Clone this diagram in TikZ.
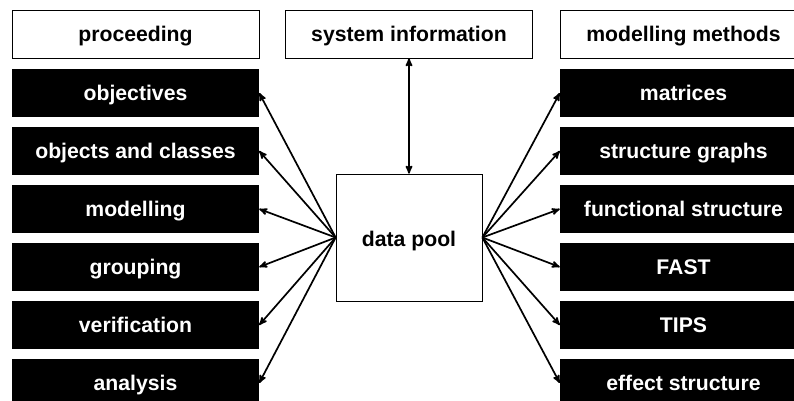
\documentclass[tikz,border=0pt]{standalone}
\usepackage{fontspec}
\setmainfont{Liberation Sans}
\usetikzlibrary{
  positioning,
  arrows
}
\tikzset{
  >=stealth',
  node distance=58pt,
  head/.style={draw, line width=0.7pt, minimum width=247pt, minimum height=48pt,
    inner sep=0pt, text height=17pt, text depth=2pt,
    font=\bfseries\fontsize{21.2}{25}\selectfont},
  item/.style={fill=black, text=white, minimum width=247pt, minimum height=48pt,
    inner sep=0pt, text height=17pt, text depth=2pt,
    font=\bfseries\fontsize{21.2}{25}\selectfont},
  pool/.style={draw, line width=0.7pt, minimum width=146pt, minimum height=127pt,
    inner sep=0pt, text height=18pt, text depth=1pt,
    font=\bfseries\fontsize{21.2}{25}\selectfont},
  link/.style={->, line width=1.7pt}
}

\begin{document}
\begin{tikzpicture}[x=1pt, y=1pt]
    \useasboundingbox (0,0) rectangle (794,-401);
    \node[head] (proc) at (135.5,-34) {proceeding};
    \node[head, right of=proc, node distance=273.5pt] (sys) {system information};
    \node[head, right of=sys, node distance=274.5pt] (meth) {modelling methods};
    \node[pool, below of=sys, node distance=203.5pt] (dp) {data pool};
    \node[item, below of=proc, node distance=59pt] (obj) {objectives};
    \node[item, below of=obj] (cls) {objects and classes};
    \node[item, below of=cls] (mod) {modelling};
    \node[item, below of=mod] (grp) {grouping};
    \node[item, below of=grp] (ver) {verification};
    \node[item, below of=ver] (ana) {analysis};
    \node[item, below of=meth, node distance=59pt] (mat) {matrices};
    \node[item, below of=mat] (sg) {structure graphs};
    \node[item, below of=sg] (fs) {functional structure};
    \node[item, below of=fs] (fast) {FAST};
    \node[item, below of=fast] (tips) {TIPS};
    \node[item, below of=tips] (es) {effect structure};
    \draw[link, <->] (sys) -- (dp);
    \draw[link] (dp.west) -- (obj.east);
    \draw[link] (dp.west) -- (cls.east);
    \draw[link] (dp.west) -- (mod.east);
    \draw[link] (dp.west) -- (grp.east);
    \draw[link] (dp.west) -- (ver.east);
    \draw[link] (dp.west) -- (ana.east);
    \draw[link] (dp.east) -- (mat.west);
    \draw[link] (dp.east) -- (sg.west);
    \draw[link] (dp.east) -- (fs.west);
    \draw[link] (dp.east) -- (fast.west);
    \draw[link] (dp.east) -- (tips.west);
    \draw[link] (dp.east) -- (es.west);
\end{tikzpicture}
\end{document}
